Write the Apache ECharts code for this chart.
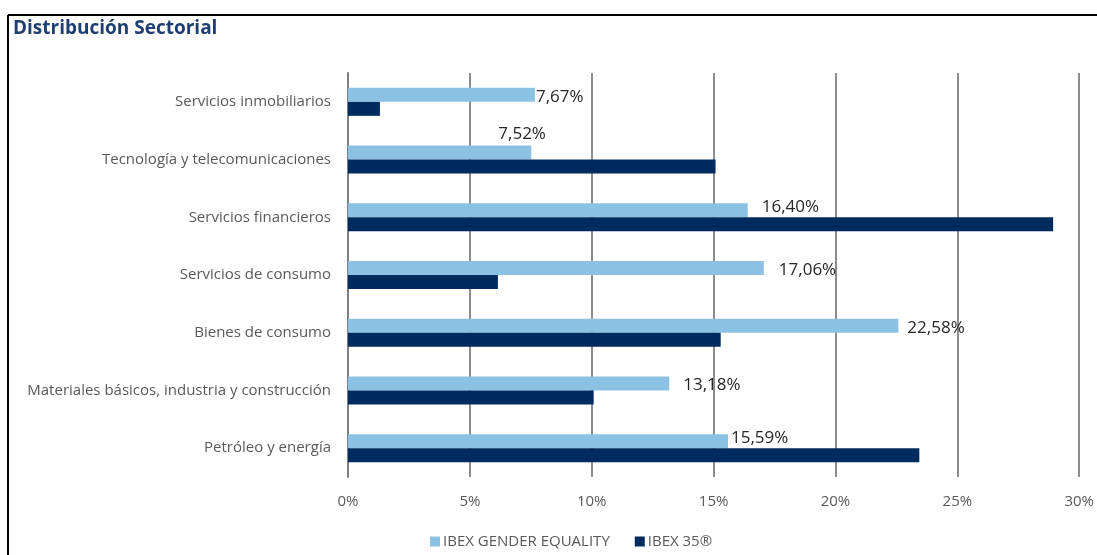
<!DOCTYPE html>
<html>
<head>
<meta charset="utf-8">
<script src="https://cdn.jsdelivr.net/npm/echarts@6/dist/echarts.min.js"></script>
<style>
html,body{margin:0;padding:0;background:#fff;}
#chart{width:1097px;height:555px;}
</style>
</head>
<body>
<div id="chart"></div>
<script>
const categories = [
  "Servicios inmobiliarios",
  "Tecnología y telecomunicaciones",
  "Servicios financieros",
  "Servicios de consumo",
  "Bienes de consumo",
  "Materiales básicos, industria y construcción",
  "Petróleo y energía"
];
const genderEquality = [7.67, 7.52, 16.40, 17.06, 22.58, 13.18, 15.59];
const ibex35 = [1.31, 15.08, 28.93, 6.15, 15.29, 10.08, 23.44];
const seriesNames = ["IBEX GENDER EQUALITY", "IBEX 35®"];
const xTicks = [0, 5, 10, 15, 20, 25, 30];

const FONT = "'Open Sans', sans-serif";
// per-label placement tweaks (presentation only)
const labelTweaks = [
  {distance: 1, offset: [0, 2]},
  {distance: 0, offset: [-33, -18]},
  {distance: 14, offset: [0, -3]},
  {distance: 15, offset: [0, 2]},
  {distance: 9, offset: [0, 2]},
  {distance: 14, offset: [0, 2]},
  {distance: 3, offset: [0, -3]}
];

const chart = echarts.init(document.getElementById('chart'));
chart.setOption({
  animation: false,
  title: {
    text: 'Distribución Sectorial',
    left: 8, top: 14,
    textStyle: {fontFamily: FONT, fontSize: 19, fontWeight: 'bold', color: '#1F3F73'}
  },
  graphic: [
    {type: 'line', shape: {x1: 8, y1: 15, x2: 1097, y2: 15}, style: {stroke: '#000', lineWidth: 2}},
    {type: 'line', shape: {x1: 8, y1: 15, x2: 8, y2: 555}, style: {stroke: '#000', lineWidth: 2}}
  ],
  legend: {
    data: seriesNames,
    bottom: 1,
    left: 425,
    icon: 'rect',
    itemWidth: 10, itemHeight: 10, itemGap: 25,
    textStyle: {fontFamily: FONT, fontSize: 15, color: '#595959', padding: [0, 0, 0, -2]}
  },
  grid: {left: 348, right: 16, top: 73, bottom: 78, containLabel: false},
  xAxis: {
    type: 'value',
    min: 0, max: 30, interval: 5,
    axisLine: {show: false},
    axisTick: {show: false},
    splitLine: {show: true, lineStyle: {color: '#8c8c8c', width: 2}},
    axisLabel: {
      fontFamily: FONT, fontSize: 15, color: '#595959', margin: 17,
      formatter: v => xTicks.includes(v) ? v + '%' : ''
    }
  },
  yAxis: {
    type: 'category',
    data: categories,
    inverse: true,
    axisLine: {show: true, lineStyle: {color: '#7f7f7f', width: 2}},
    axisTick: {show: false},
    axisLabel: {fontFamily: FONT, fontSize: 15, color: '#595959', margin: 17, padding: [0, 0, 4, 0]}
  },
  series: [
    {
      name: seriesNames[0],
      type: 'bar',
      barWidth: 14,
      barGap: '0%',
      itemStyle: {color: '#8BC2E4'},
      data: genderEquality.map((v, i) => ({
        value: v,
        label: Object.assign({show: true, position: 'right'}, labelTweaks[i])
      })),
      label: {
        show: true, position: 'right',
        fontFamily: FONT, fontSize: 17, color: '#262626',
        formatter: p => p.value.toFixed(2).replace('.', ',') + '%'
      }
    },
    {
      name: seriesNames[1],
      type: 'bar',
      barWidth: 14,
      barGap: '0%',
      itemStyle: {color: '#002B5E'},
      data: ibex35
    }
  ]
});
</script>
</body>
</html>
